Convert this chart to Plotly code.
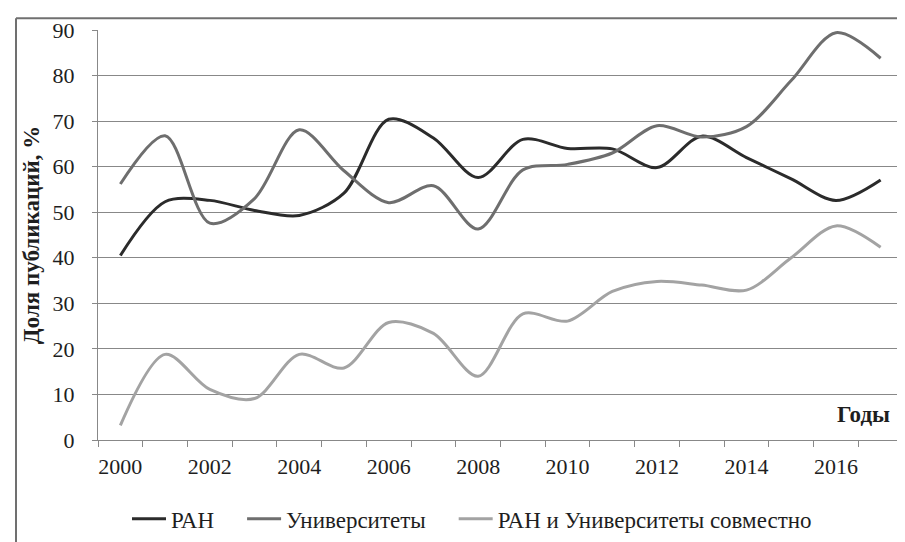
import plotly.graph_objects as go

years = list(range(2000, 2018))
ran = [40.5, 52.3, 52.6, 50.4, 49.3, 54.2, 70.4, 66.3, 57.6, 66.0, 64.0, 63.9, 59.8, 66.7, 62.0, 57.3, 52.6, 57.1]
univ = [56.2, 66.8, 47.6, 53.0, 68.1, 59.1, 52.1, 55.8, 46.3, 59.3, 60.5, 63.0, 69.0, 66.5, 68.8, 78.9, 89.4, 83.8]
joint = [3.2, 18.8, 11.1, 9.1, 18.8, 15.8, 25.8, 23.4, 14.0, 27.7, 26.1, 32.6, 34.8, 34.0, 32.9, 40.0, 47.0, 42.3]

names = ["РАН", "Университеты", "РАН и Университеты совместно"]
colors = ["#2b2b2b", "#6e6e6e", "#a3a3a3"]
tick_years = [y for y in years if y % 2 == 0]

serif = "Liberation Serif, Times New Roman, serif"
txt = "#1e1e1e"
pad = "\u00a0" * 4

fig = go.Figure()
for i, (name, vals, col) in enumerate(zip(names, [ran, univ, joint], colors)):
    label = name + (pad if i < len(names) - 1 else "")
    fig.add_trace(go.Scatter(
        x=years, y=vals, name=label, mode="lines",
        line=dict(color=col, width=3, shape="spline", smoothing=0.9),
    ))

grid = "#888888"
fig.update_layout(
    width=905, height=542,
    margin=dict(l=90, r=10, t=22, b=104),
    paper_bgcolor="white", plot_bgcolor="white",
    font=dict(family=serif, size=21, color=txt),
    showlegend=True,
    legend=dict(orientation="h", x=(464 - 90) / 805, xanchor="center", y=(438 - 518) / 416, yanchor="middle",
                font=dict(family=serif, size=23, color=txt),
                itemwidth=34, tracegroupgap=0),
    xaxis=dict(
        range=[1999.5, 2017.5], tickmode="array", tickvals=tick_years,
        ticktext=[str(y) for y in tick_years], ticks="", showgrid=False,
        showline=True, linecolor=grid, linewidth=1, zeroline=False,
        tickfont=dict(family=serif, size=22, color=txt),
        ticklabelstandoff=7,
        minor=dict(tick0=1999.5, dtick=1, ticks="outside", ticklen=6,
                   tickcolor=grid, tickwidth=1, showgrid=False),
    ),
    yaxis=dict(
        range=[0, 90], dtick=10, showgrid=True, gridcolor=grid, gridwidth=1,
        showline=True, linecolor=grid, linewidth=1, zeroline=False,
        ticks="outside", ticklen=5, tickcolor=grid,
        tickfont=dict(family=serif, size=22, color=txt),
        ticklabelstandoff=13,
        title=dict(text="<b>Доля публикаций, %</b>", font=dict(family=serif, size=23, color=txt),
                   standoff=6),
    ),
    annotations=[dict(
        text="<b>Годы</b>", xref="paper", yref="paper", x=(884 - 90) / 805, y=(438 - 412) / 416,
        xanchor="right", yanchor="middle", showarrow=False,
        font=dict(family=serif, size=23, color=txt),
    )],
    shapes=[
        dict(type="line", xref="paper", yref="paper", x0=(8 - 90) / 805, x1=(8 - 90) / 805,
             y0=(438 - 10) / 416, y1=(438 - 545) / 416, line=dict(color="#707070", width=2)),
        dict(type="line", xref="paper", yref="paper", x0=(8 - 90) / 805, x1=(910 - 90) / 805,
             y0=(438 - 10) / 416, y1=(438 - 10) / 416, line=dict(color="#707070", width=2)),
    ],
)

fig.write_html("out.html")
